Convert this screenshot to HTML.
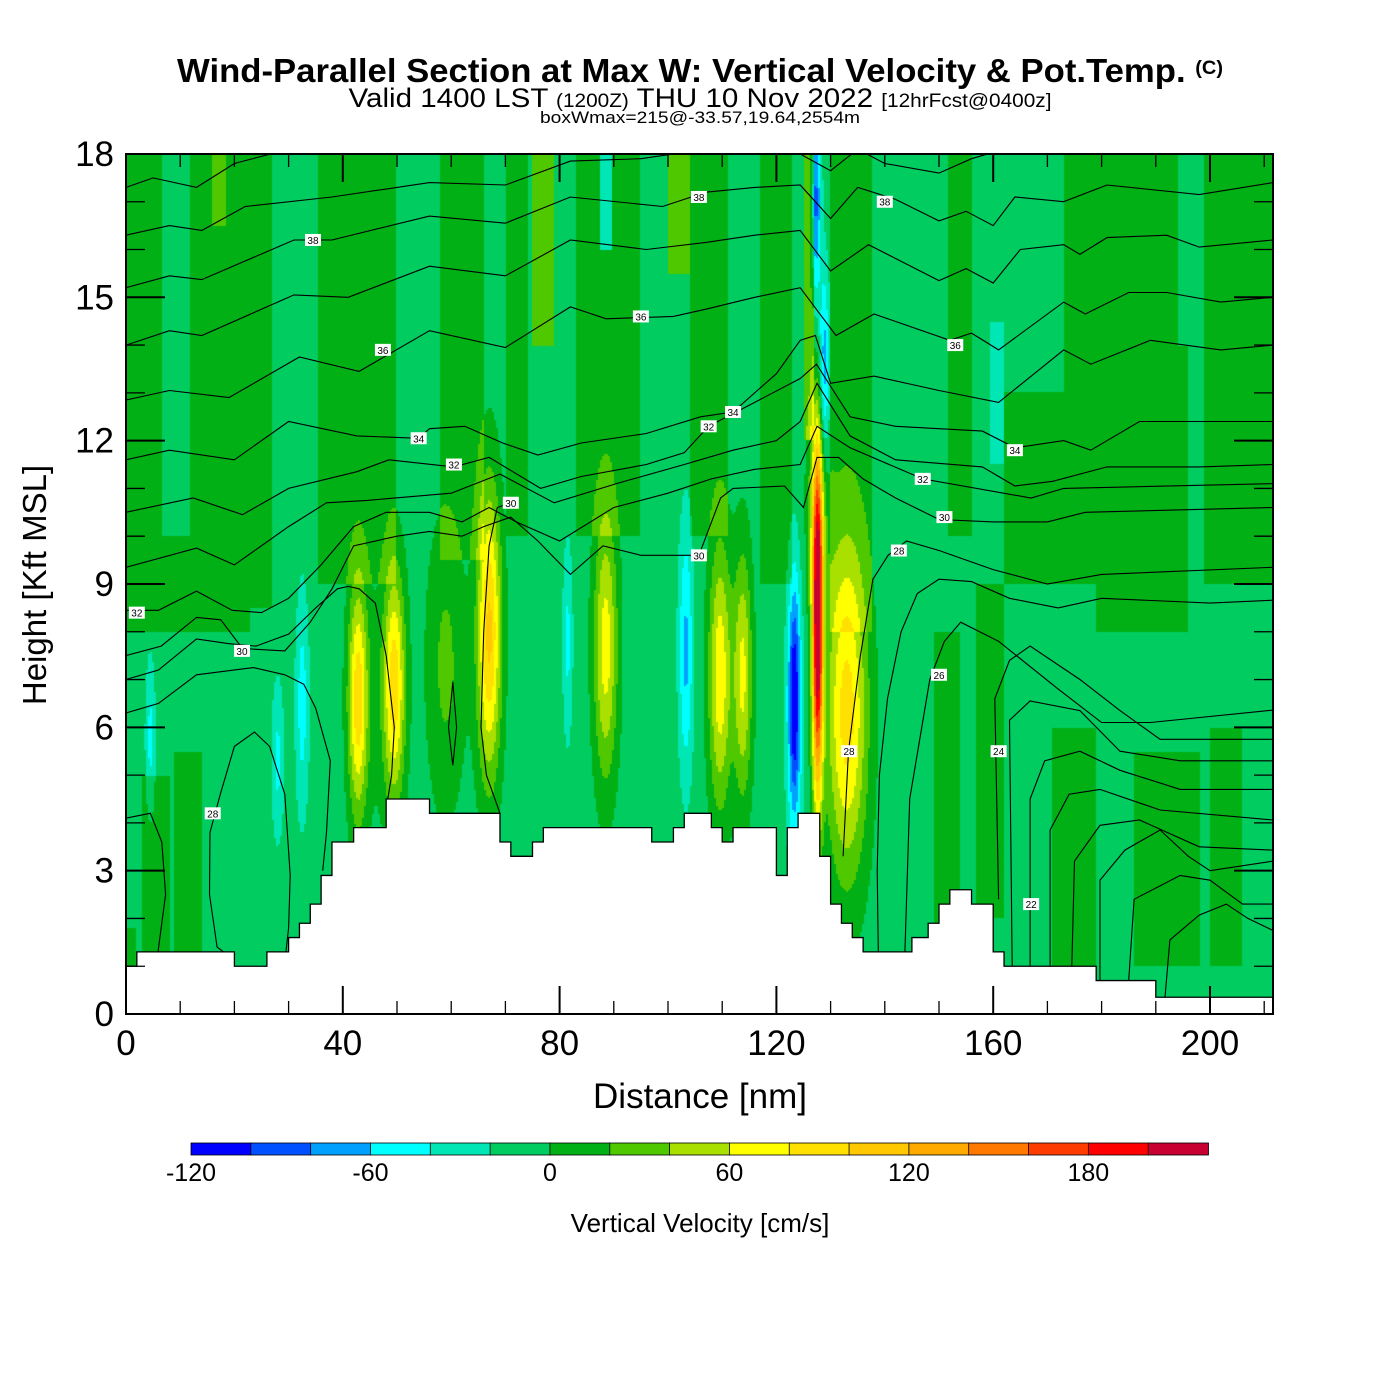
<!DOCTYPE html>
<html>
<head>
<meta charset="utf-8">
<style>
html,body{margin:0;padding:0;background:#fff;}
body{width:1400px;height:1400px;position:relative;overflow:hidden;font-family:"Liberation Sans",Arial,sans-serif;}
#field{position:absolute;left:126px;top:154px;}
#over{position:absolute;left:0;top:0;}
</style>
</head>
<body>
<canvas id="field" width="1147" height="860"></canvas>
<svg id="over" width="1400" height="1400" xmlns="http://www.w3.org/2000/svg">
  <g>
    <text x="700" y="82" text-anchor="middle" font-size="33" font-weight="bold" font-family="Liberation Sans" textLength="1046" lengthAdjust="spacingAndGlyphs">Wind-Parallel Section at Max W: Vertical Velocity &amp; Pot.Temp. <tspan font-size="19" dy="-8">(C)</tspan></text>
    <text x="700" y="107" text-anchor="middle" font-size="27" font-family="Liberation Sans" textLength="703" lengthAdjust="spacingAndGlyphs">Valid 1400 LST <tspan font-size="19">(1200Z)</tspan> THU 10 Nov 2022 <tspan font-size="19">[12hrFcst@0400z]</tspan></text>
    <text x="700" y="123" text-anchor="middle" font-size="17" font-family="Liberation Sans" textLength="320" lengthAdjust="spacingAndGlyphs">boxWmax=215@-33.57,19.64,2554m</text>
  </g>
  <g id="terrain"></g>
  <g id="contours"></g>
  <g id="clabels"></g>
  <g id="axes"></g>
  <g id="cbar"></g>
  <text x="700" y="1108" text-anchor="middle" font-size="35">Distance [nm]</text>
  <text transform="translate(46,585) rotate(-90)" text-anchor="middle" font-size="33">Height [Kft MSL]</text>
  <text x="700" y="1232" text-anchor="middle" font-size="26">Vertical Velocity [cm/s]</text>
</svg>
<script>
// ---------- data ----------
const xTicks = [0,40,80,120,160,200];
const yTicks = [0,3,6,9,12,15,18];
const cbarLevels = [-120,-100,-80,-60,-40,-20,0,20,40,60,80,100,120,140,160,180,200,220];
const cbarColors = ["#0000ff","#0050ff","#00a0ff","#00ffff","#00e6b4","#00cc60","#00b014","#50c800","#aae000","#ffff00","#ffe000","#ffc800","#ffaa00","#ff7800","#ff3c00","#ff0000","#c80032"];
const cbarTickLabels = [-120,-60,0,60,120,180];
// background stripes: [x0 nm, x1 nm, h0 kft, h1 kft, w cm/s]
const stripes = [
 [0,6.6,8,18,10],[11.8,27,8.5,18,10],[35.6,50,9,18,10],[58,66,9.5,18,10],[70,74,10,18,10],
 [83,95,10,18,10],[104,111,10,18,10],[117,123,9,18,10],[130,137.5,8,18,10],[151.6,156,10,18,10],
 [162,173,9,13,10],[173,194,9,18,10],[199,212,9,18,10],
 [3,23,8,10,10],[3,8,1,5,10],[9,14,1,5.5,10],[0,2,0,1.8,10],
 [149,154,1,8,10],[157,162,2,9,10],[171,179,1,6,10],[179,196,8,14,10],[186,198,1,5.5,10],[200,206,1,6,10],
 [16,18.5,16.5,18,30],[75,79,14,18,30],[100,104,15.5,18,30],[125,126.8,12,18,30],
 [87.5,89.5,16,18,-30],[159.5,162,11.5,14.5,-30]
];
// blobs: [center nm, center kft, half-width nm, half-height kft, peak cm/s]
const blobs = [
 [42.8,6.6,1.8,2.4,100],[49.5,6.9,2.0,2.4,100],[46,6.5,4,2.8,12],
 [67,8.0,2.2,3.0,115],[59,7.3,3.5,3.0,35],
 [88.5,7.7,2.2,2.8,80],
 [109.6,7.1,2.1,2.8,85],[113.8,7.1,1.7,2.6,75],
 [127.6,8.2,1.0,3.6,240],[133,6.3,3.8,3.4,100],[127.5,10.5,2.0,2.2,40],
 [123.3,6.6,1.1,2.4,-95],[123.5,6,1.8,3.5,-20],
 [127.3,17,0.9,2,-75],[128.8,13.5,0.9,2,-65],
 [103.3,7.6,1.3,2.6,-55],[81.5,7.8,0.9,2.0,-35],
 [4.5,5.8,0.9,1.6,-35],[28,5.3,1.1,1.6,-35],[32.5,6.5,1.2,2.3,-40]
];
const baseW = -10;
// terrain steps [x0 nm, x1 nm, height kft]
const terrain = [
 [0,2,1.0],[2,20,1.3],[20,26,1.0],[26,30,1.3],[30,32,1.6],[32,34,1.9],[34,36,2.3],[36,38,2.9],[38,42,3.6],
 [42,48,3.9],[48,56,4.5],[56,69,4.2],[69,71,3.6],[71,75,3.3],[75,77,3.6],[77,97,3.9],[97,101,3.6],[101,103,3.9],
 [103,108,4.2],[108,110,3.9],[110,112,3.6],[112,120,3.9],[120,122,2.9],[122,124,3.9],[124,128,4.2],[128,130,3.3],
 [130,132,2.3],[132,134,1.9],[134,136,1.6],[136,145,1.3],[145,148,1.6],[148,150,1.9],[150,152,2.3],[152,156,2.6],
 [156,158,2.3],[158,160,2.3],[160,162,1.3],[162,179,1.0],[179,190,0.7],[190,212,0.35]
];
// potential temperature contours: [nm, kft] points
const thetaLines = [
 [[0,17.3],[5,17.5],[13,17.3],[20,17.8],[30,18.1]],
 [[0,16.3],[8,16.5],[14,16.4],[22,16.9],[38,17.1],[56,17.4],[70,17.35],[82,17.85],[95,17.9],[107,18.1],[118,18.2],[124.4,18.0],[130,17.65],[135,18.1],[140,17.8],[150,17.6],[156,17.9],[162,18.1]],
 [[0,15.2],[8,15.45],[14,15.37],[31,16.2],[38,16.2],[56,16.7],[70,16.55],[82,17.1],[99,16.9],[107,17.2],[116,17.3],[124.4,17.35],[130,16.65],[135,17.3],[142,17.05],[150,16.6],[155,16.8],[160,16.5],[164,17.1],[173,17.0],[181,17.35],[198,17.15],[211.6,17.4]],
 [[0,14.0],[8,14.3],[14,14.2],[31,15.05],[41,15.0],[56,15.65],[70,15.45],[82,16.2],[96,16.0],[107,16.15],[116,16.3],[124.4,16.4],[130,15.55],[137,16.1],[150,15.35],[155,15.6],[160,15.3],[165,16.0],[173,16.1],[176,15.9],[181,16.25],[192,16.3],[198,16.05],[211.6,16.2]],
 [[0,12.85],[8,13.05],[19,12.9],[32,13.75],[43,13.45],[56,14.3],[70,13.95],[82,14.8],[88.6,14.55],[101,14.6],[107,14.75],[116,15.0],[124.4,15.2],[131,14.2],[138,14.65],[152,14.1],[156,14.25],[161,13.9],[173,14.9],[177,14.65],[185,15.1],[192,15.1],[202,14.9],[211.6,15.0]],
 [[0,11.6],[8,11.8],[20,11.6],[30,12.4],[42.6,12.1],[54,12.05],[56,12.25],[62.5,12.3],[69.5,11.95],[76,11.7],[84,11.95],[96,12.15],[106,12.5],[112,12.6],[120,13.4],[124.4,14.1],[127.2,14.2],[130,13.2],[138,13.35],[150,13.05],[161,12.8],[173,13.9],[178,13.6],[189,14.1],[202,13.9],[211.6,14.0]],
 [[0,10.5],[12.4,10.8],[21.5,10.45],[30,11.0],[42.6,11.35],[48.5,11.6],[60.5,11.45],[67,11.65],[76.5,11.0],[84,11.25],[96,11.5],[103,11.75],[107.5,12.3],[116,12.8],[124.4,13.3],[127.4,13.6],[133.6,12.5],[142,12.3],[158,12.2],[164,11.85],[173,12.0],[178,11.8],[187,12.4],[211.6,12.4]],
 [[0,9.35],[13,9.75],[20,9.4],[30,10.2],[37,10.7],[44.5,10.75],[60,10.9],[69,11.3],[79,10.7],[90.5,11.1],[103,11.5],[112,11.8],[120,12.0],[124.4,12.4],[127.5,13.2],[133.6,12.1],[142,11.6],[158,11.45],[164,11.05],[171,11.15],[181,11.45],[198,11.45],[211.6,11.5]],
 [[0,8.45],[6,8.45],[13,8.85],[19.6,8.45],[25,8.4],[30,8.7],[36,9.4],[42,10.2],[48,10.5],[56,10.5],[62,10.3],[67,10.6],[72,10.3],[80,9.9],[90,10.6],[100,10.9],[108,11.2],[116,11.4],[124.4,11.5],[127.5,12.3],[133.6,11.85],[147,11.2],[167,10.8],[173,11.0],[211.6,11.1]],
 [[0,7.5],[6.5,7.7],[13,8.3],[17.5,8.25],[21.5,7.65],[29.3,7.6],[34,8.2],[38,8.9],[42,9.8],[50,10.0],[56,10.1],[62,10.0],[66,10.2],[71,10.4],[76,9.9],[82,9.2],[88,9.8],[95,9.6],[105.7,9.6],[109.7,10.8],[112,11.0],[121.5,11.05],[125,10.6],[127.5,11.65],[131.5,11.65],[136,11.2],[142,10.8],[150,10.35],[160,10.3],[170,10.3],[177,10.5],[211.6,10.6]],
 [[0,7.0],[6,7.2],[13,7.85],[19,7.75],[24,7.7],[30,7.95],[35,8.5],[39,8.9],[41,8.95],[43,8.9],[46,8.6],[48,7.5],[49.5,6.0],[49,5.0],[48.3,4.5]],
 [[0,6.3],[6,6.5],[13,7.1],[23.5,7.25],[29.3,7.1],[32.8,6.9],[35,6.4],[37.7,5.3],[37,3.8],[36.3,3.0]],
 [[69,4.2],[66.5,5],[65.5,6],[66,8],[67,9.8],[68.5,10.6],[71,10.7]],
 [[18,1.3],[16.8,1.4],[15.4,2.5],[15.5,3.8],[17.4,4.6],[20,5.6],[23.7,5.9],[26.5,5.6],[29.3,4.6],[30.3,2.9],[30,1.8],[29.5,1.3]],
 [[0,4.1],[4.5,4.2],[6.6,3.6],[7.3,2.5],[5.9,1.3]],
 [[60.3,6.95],[59.5,6],[60.3,5.2],[61,6],[60.3,6.95]],
 [[132.3,3.3],[133.3,5.5],[135.5,7.5],[137.8,9.1],[140.6,9.6],[144,9.9],[150,9.7],[160,9.3],[170,9.0],[180,9.2],[211.6,9.35]],
 [[138.8,1.3],[138.6,3],[139,5],[140.5,6.6],[143,8.0],[146,8.8],[150,9.1],[156,9.05],[163,8.7],[172,8.5],[180,8.7],[200,8.6],[211.6,8.66]],
 [[143.7,1.3],[144.6,4.5],[148.3,7.0],[151,7.8],[154,8.2],[161,7.8],[172,6.8],[180,6.1],[189,6.1],[211.6,6.36]],
 [[161,2.4],[160.3,6.6],[163,7.4],[166.8,7.7],[176,7.0],[183.4,6.35],[190.8,5.75],[211.6,5.75]],
 [[163.5,1.0],[163,6.15],[166.8,6.55],[176,6.35],[183.4,5.5],[194.5,5.3],[211.6,5.3]],
 [[166.8,1.0],[166.8,4.5],[169.5,5.3],[176,5.5],[183.4,5.1],[194.5,4.7],[211.6,4.7]],
 [[170.5,1.0],[170.5,3.85],[174,4.6],[179.7,4.7],[190.8,4.27],[211.6,4.06]],
 [[174.5,1.0],[175,3.2],[179.7,3.95],[187,4.06],[198,3.5],[211.6,3.43]],
 [[179.7,0.7],[179.7,2.8],[184.3,3.43],[190.8,3.85],[196,3.3],[200,3.0],[211.6,3.2]],
 [[185,0.7],[186,2.4],[194.5,2.9],[200,2.8],[206,2.3],[211.6,2.3]],
 [[191.7,0.35],[192.6,1.55],[198,2.07],[203,2.3],[207,2.0],[211.6,1.75]]
];
// contour label text and positions [nm, kft, text]
const contourLabels = [
 [34.5,16.2,"38"],[105.7,17.1,"38"],[140,17.0,"38"],[47.4,13.9,"36"],[95,14.6,"36"],[153,14.0,"36"],
 [54,12.05,"34"],[112,12.6,"34"],[164,11.8,"34"],[60.5,11.5,"32"],[107.5,12.3,"32"],[147,11.2,"32"],[2,8.4,"32"],
 [71,10.7,"30"],[105.7,9.6,"30"],[151,10.4,"30"],[21.4,7.6,"30"],
 [142.6,9.7,"28"],[150,7.1,"26"],[133.4,5.5,"28"],[16,4.2,"28"],[161,5.5,"24"],[167,2.3,"22"]
];
// ---------- scales ----------
const X0=126, XR=5.42, Y0=1014, YR=47.78;
const sx = nm => X0 + nm*XR;
const sy = h => Y0 - h*YR;
const NS="http://www.w3.org/2000/svg";
function mk(tag, attrs, parent){const e=document.createElementNS(NS,tag);for(const k in attrs)e.setAttribute(k,attrs[k]);parent.appendChild(e);return e;}

// ---------- field ----------
function field(nm,h){
  let w=baseW;
  for(const s of stripes){ if(nm>=s[0]&&nm<s[1]&&h>=s[2]&&h<s[3]) w=s[4]; }
  for(const b of blobs){const dx=(nm-b[0])/b[2], dy=(h-b[1])/b[3]; const d=dx*dx+dy*dy; if(d<12) w+=b[4]*Math.exp(-d);}
  return w;
}
function colorFor(w){
  for(let i=0;i<cbarColors.length;i++){ if(w<cbarLevels[i+1]) return cbarColors[Math.max(i,0)]; }
  return cbarColors[cbarColors.length-1];
}
(function(){
  const c=document.getElementById('field'); const ctx=c.getContext('2d');
  const W=c.width,H=c.height; const img=ctx.createImageData(W,H);
  const cache={};
  function rgb(hex){if(!cache[hex])cache[hex]=[parseInt(hex.substr(1,2),16),parseInt(hex.substr(3,2),16),parseInt(hex.substr(5,2),16)];return cache[hex];}
  for(let py=0;py<H;py+=2){
    const h=(Y0-(py+154)-1)/YR;
    for(let px=0;px<W;px+=2){
      const nm=(px+1)/XR;
      const col=rgb(colorFor(field(nm,h)));
      for(let yy=py;yy<Math.min(py+2,H);yy++)for(let xx=px;xx<Math.min(px+2,W);xx++){
        const i=(yy*W+xx)*4; img.data[i]=col[0];img.data[i+1]=col[1];img.data[i+2]=col[2];img.data[i+3]=255;}
    }
  }
  ctx.putImageData(img,0,0);
})();

// ---------- terrain ----------
(function(){
  const g=document.getElementById('terrain');
  let d="M"+sx(0)+","+sy(0);
  for(const t of terrain){d+=" L"+sx(t[0])+","+sy(t[2])+" L"+sx(Math.min(t[1],211.6))+","+sy(t[2]);}
  d+=" L"+sx(211.6)+","+sy(0)+" Z";
  const p=mk('path',{d:d,fill:'#fff',stroke:'none'},g);
  
  
  let d2="M"+sx(0)+","+sy(terrain[0][2]);
  for(const t of terrain){d2+=" L"+sx(t[0])+","+sy(t[2])+" L"+sx(Math.min(t[1],211.6))+","+sy(t[2]);}
  const o=mk('path',{d:d2,fill:'none',stroke:'#000','stroke-width':1.3},g);
  
  
})();

// ---------- contours ----------
(function(){
  const g=document.getElementById('contours');
  const cp=mk('clipPath',{id:'pc'},g);
  mk('rect',{x:126,y:154,width:1147,height:860},cp);
  thetaLines.forEach((ln,i)=>{
    const pts=ln.map(p=>sx(p[0]).toFixed(1)+","+sy(p[1]).toFixed(1)).join(" ");
    const pl=mk('polyline',{points:pts,fill:'none',stroke:'#000','stroke-width':1.1,'clip-path':'url(#pc)'},g);
    
    
  });
  const lg=document.getElementById('clabels');
  contourLabels.forEach(l=>{
    const x=sx(l[0]), y=sy(l[1]);
    const r=mk('rect',{x:x-8,y:y-6,width:16,height:12,fill:'#fff'},lg);
    
    
    const t=mk('text',{x:x,y:y+4,'text-anchor':'middle','font-size':10},lg);
    t.textContent=l[2];
    
    
  });
})();

// ---------- axes ----------
(function(){
  const g=document.getElementById('axes');
  const f=mk('rect',{x:126,y:154,width:1147,height:860,fill:'none',stroke:'#000','stroke-width':2},g);
  
  
  for(let nm=0;nm<=210;nm+=10){
    const major=xTicks.includes(nm); const L=major?28:13; const x=sx(nm);
    const a=mk('line',{x1:x,x2:x,y1:1014,y2:1014-L,stroke:'#000','stroke-width':major?2:1.3},g);
    
    
    const b=mk('line',{x1:x,x2:x,y1:154,y2:154+L,stroke:'#000','stroke-width':major?2:1.3},g);
    
    
  }
  xTicks.forEach(v=>{
    const t=mk('text',{x:sx(v),y:1055,'text-anchor':'middle','font-size':35},g);
    t.textContent=v;
    
    
  });
  for(let h=0;h<=18;h++){
    const major=yTicks.includes(h); const L=major?39:19; const y=sy(h);
    const a=mk('line',{x1:126,x2:126+L,y1:y,y2:y,stroke:'#000','stroke-width':major?2:1.3},g);
    
    
    const b=mk('line',{x1:1273,x2:1273-L,y1:y,y2:y,stroke:'#000','stroke-width':major?2:1.3},g);
    
    
  }
  yTicks.forEach(v=>{
    const t=mk('text',{x:114,y:sy(v)+12,'text-anchor':'end','font-size':35},g);
    t.textContent=v;
    
    
  });
})();

// ---------- colorbar ----------
(function(){
  const g=document.getElementById('cbar');
  const cx0=191, cw=(1208-191)/cbarColors.length, cy=1143, ch=12;
  const vx = v => cx0 + (v-cbarLevels[0])/(cbarLevels[cbarLevels.length-1]-cbarLevels[0])*(1208-191);
  cbarColors.forEach((c,i)=>{
    const r=mk('rect',{x:vx(cbarLevels[i]),y:cy,width:cw+0.5,height:ch,fill:c,stroke:'#000','stroke-width':0.8},g);
    
    
  });
  cbarTickLabels.forEach(v=>{
    const t=mk('text',{x:vx(v),y:1181,'text-anchor':'middle','font-size':25},g);
    t.textContent=v;
    
    
  });
})();
</script>
</body>
</html>
